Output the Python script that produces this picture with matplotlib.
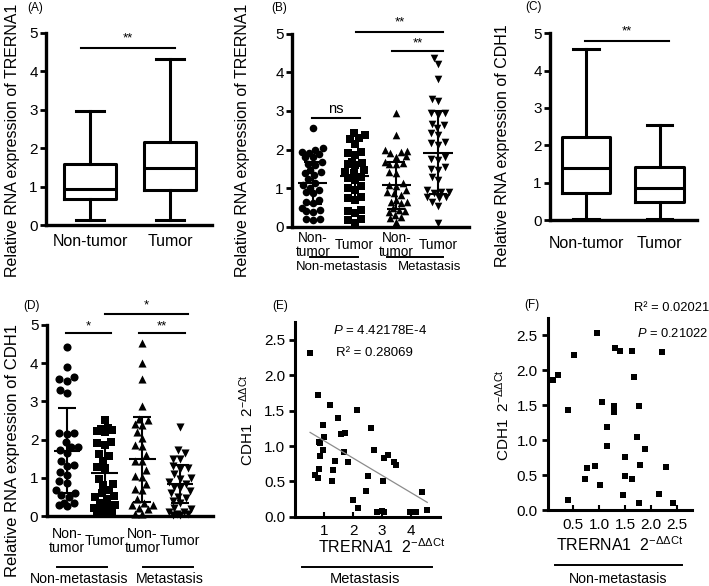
import matplotlib.pyplot as plt
import numpy as np
from matplotlib.transforms import blended_transform_factory

plt.rcParams['font.family'] = ['Liberation Sans', 'DejaVu Sans']
plt.rcParams['mathtext.fontset'] = 'custom'
plt.rcParams['mathtext.rm'] = 'Liberation Sans'
plt.rcParams['mathtext.it'] = 'Liberation Sans:italic'
plt.rcParams['mathtext.bf'] = 'Liberation Sans:bold'

W, H = 709, 586

# ---- (A) TRERNA1 box plot
A_groups = ['Non-tumor', 'Tumor']
A_whislo = [0.13, 0.12]
A_q1 = [0.68, 0.91]
A_med = [0.95, 1.48]
A_q3 = [1.58, 2.17]
A_whishi = [2.97, 4.31]

# ---- (C) CDH1 box plot
C_groups = ['Non-tumor', 'Tumor']
C_whislo = [0.02, 0.02]
C_q1 = [0.73, 0.47]
C_med = [1.39, 0.85]
C_q3 = [2.23, 1.43]
C_whishi = [4.58, 2.55]

# ---- (B) TRERNA1 by metastasis
B_labels = ['Non-\ntumor', 'Tumor', 'Non-\ntumor', 'Tumor']
B_nt_nm = [2.55, 2.00, 2.03, 1.95, 1.90, 1.88, 1.81, 1.80, 1.64, 1.69, 1.60, 1.43,
           1.47, 1.39, 1.34, 1.23, 1.14, 1.08, 1.00, 0.96, 0.87, 0.91, 0.70, 0.63,
           0.65, 0.44, 0.42, 0.40, 0.48, 0.20, 0.17, 0.20]
B_t_nm = [2.42, 2.38, 2.27, 2.14, 2.29, 1.90, 1.95, 1.86, 1.66, 1.64, 1.69, 1.60,
          1.43, 1.47, 1.39, 1.21, 1.30, 1.26, 1.00, 1.05, 0.96, 0.78, 0.70, 0.74,
          0.42, 0.37, 0.44, 0.18, 0.10, 0.20]
B_nt_m = [2.94, 2.38, 1.97, 1.95, 1.92, 2.00, 1.81, 1.83, 1.64, 1.69, 1.62, 1.66,
          1.43, 1.39, 1.13, 1.05, 0.96, 1.08, 0.87, 0.91, 0.83, 0.65, 0.70, 0.61,
          0.65, 0.48, 0.42, 0.40, 0.44, 0.27, 0.31, 0.22, 0.14]
B_t_m = [4.36, 4.22, 3.83, 3.32, 3.25, 2.95, 2.90, 2.95, 2.64, 2.55, 2.67, 2.37,
         2.42, 2.16, 2.12, 2.20, 1.81, 1.72, 1.76, 1.55, 1.47, 1.51, 1.30, 1.21,
         0.91, 0.87, 0.96, 0.91, 0.78, 0.74, 0.78, 0.65, 0.55, 0.10]
B_mean = [1.14, 1.33, 1.08, 1.92]
B_sd = [0.55, 0.59, 0.61, 1.08]

# ---- (D) CDH1 by metastasis
D_labels = ['Non-\ntumor', 'Tumor', 'Non-\ntumor', 'Tumor']
D_nt_nm = [4.43, 3.89, 3.63, 3.58, 3.54, 3.30, 3.22, 2.16, 2.15, 2.16, 1.95, 1.81,
           1.80, 1.72, 1.64, 1.45, 1.34, 1.32, 1.16, 1.07, 0.92, 0.86, 0.68, 0.60,
           0.55, 0.50, 0.35, 0.30, 0.33, 0.25]
D_t_nm = [2.51, 2.30, 2.27, 2.22, 2.20, 2.25, 1.95, 1.92, 1.85, 1.62, 1.58, 1.45,
          1.28, 1.26, 0.98, 0.85, 0.82, 0.68, 0.50, 0.52, 0.45, 0.35, 0.25, 0.22,
          0.12, 0.12, 0.05, 0.05, 0.30, 0.60]
D_nt_m = [4.52, 4.01, 3.59, 2.88, 2.54, 2.51, 2.40, 2.38, 2.20, 2.05, 1.85, 1.83,
          1.60, 1.45, 1.43, 1.20, 1.05, 1.03, 0.85, 0.70, 0.68, 0.45, 0.30, 0.28,
          0.20, 0.18, 0.05, 0.05, 0.35]
D_t_m = [2.34, 1.73, 1.64, 1.50, 1.48, 1.25, 1.22, 1.10, 1.00, 0.98, 0.85, 0.75,
         0.73, 0.60, 0.50, 0.48, 0.35, 0.20, 0.18, 0.10, 0.10, 0.05, 0.05, 0.90,
         1.30, 0.40, 0.65, 0.03, 0.02]
D_mean = [1.71, 1.13, 1.48, 0.83]
D_sd = [1.12, 0.79, 1.12, 0.50]

# ---- (E) correlation, metastasis
E_x = [0.52, 0.78, 1.22, 2.13, 1.47, 0.96, 2.61, 1.00, 1.58, 1.72, 0.83, 0.87, 0.98,
       1.69, 2.73, 0.86, 3.20, 3.07, 3.42, 3.47, 1.38, 1.84, 0.84, 1.32, 0.69, 0.79,
       2.53, 1.29, 3.04, 2.45, 4.39, 1.99, 2.18, 2.82, 2.99, 3.07, 3.97, 4.16, 4.54]
E_y = [2.32, 1.72, 1.58, 1.51, 1.39, 1.30, 1.26, 1.13, 1.17, 1.19, 1.06, 1.04, 0.95,
       0.92, 0.94, 0.86, 0.87, 0.83, 0.77, 0.73, 0.79, 0.77, 0.68, 0.66, 0.59, 0.55,
       0.57, 0.50, 0.51, 0.36, 0.35, 0.24, 0.13, 0.07, 0.08, 0.07, 0.07, 0.07, 0.09]
E_fit_x = [0.52, 4.56]
E_fit_b0, E_fit_b1 = 1.32, -0.245

# ---- (F) correlation, non-metastasis
F_x = [0.95, 0.52, 1.31, 1.41, 1.63, 2.22, 0.11, 0.21, 1.68, 0.40, 1.06, 1.29, 1.29,
       1.77, 1.15, 1.73, 1.16, 1.88, 1.49, 0.76, 0.92, 1.79, 2.30, 0.73, 1.02, 1.50,
       1.63, 0.40, 1.46, 1.78, 2.15, 2.42]
F_y = [2.53, 2.22, 2.32, 2.27, 2.27, 2.26, 1.86, 1.93, 1.90, 1.43, 1.54, 1.49, 1.40,
       1.49, 1.19, 1.05, 0.92, 0.87, 0.76, 0.60, 0.63, 0.65, 0.61, 0.44, 0.36, 0.48,
       0.44, 0.15, 0.21, 0.10, 0.23, 0.10]


fig = plt.figure(figsize=(W / 100, H / 100), dpi=100)


def add_ax(l, t, r, b):
    # axes rectangle given in pixels from the top-left corner
    return fig.add_axes([l / W, 1 - b / H, (r - l) / W, (b - t) / H])


def style(ax, lw=2.4):
    for s in ['top', 'right']:
        ax.spines[s].set_visible(False)
    for s in ['left', 'bottom']:
        ax.spines[s].set_linewidth(lw)
    ax.patch.set_alpha(0)
    ax.tick_params(axis='y', direction='out', length=4, width=2, labelsize=11, pad=2)


def cat_labels(ax, labels, fs, pad):
    ax.set_xticks(range(1, len(labels) + 1))
    ax.set_xticklabels(labels, fontsize=fs, linespacing=0.95)
    for t in ax.get_xticklabels():
        t.set_va('center')
    ax.tick_params(axis='x', length=0, pad=pad)


def sig(ax, x0, x1, y, label, ty, fs=10):
    ax.plot([x0, x1], [y, y], color='k', lw=1.5, clip_on=False)
    ax.text((x0 + x1) / 2, ty, label, ha='center', va='center', fontsize=fs, clip_on=False)


def swarm(vals, xpx, ypx, d, wmax):
    # beeswarm limited to +-wmax pixels; overlaps allowed when it gets crowded
    vals = np.asarray(vals)
    offs = np.zeros(len(vals))
    placed = []
    cands = sorted(np.arange(-wmax, wmax + 0.01, 0.5), key=abs)
    for i in np.argsort(vals):
        y = vals[i] * ypx
        best, bestd = 0.0, -1.0
        for c in cands:
            md = min([np.hypot(c - px, y - py) for px, py in placed] or [99])
            if md >= d:
                best = c
                break
            if md > bestd:
                best, bestd = c, md
        placed.append((best, y))
        offs[i] = best
    return offs / xpx


def box_panel(ax, whislo, q1, med, q3, whishi):
    stats = [dict(whislo=a, q1=b, med=c, q3=d, whishi=e, fliers=[])
             for a, b, c, d, e in zip(whislo, q1, med, q3, whishi)]
    kw = dict(color='k', linewidth=2.2)
    ax.bxp(stats, positions=[1, 2], widths=0.66, capwidths=0.35, showfliers=False,
           boxprops=kw, medianprops=kw, whiskerprops=kw, capprops=kw)


def dot_panel(ax, groups, means, sds, xpx, ypx, msize, d, wmax):
    markers = ['o', 's', '^', 'v']
    for i, (vals, m) in enumerate(zip(groups, markers)):
        offs = swarm(vals, xpx, ypx, d, wmax)
        ax.scatter(i + 1 + offs, vals, marker=m, s=msize, color='k', linewidths=0,
                   zorder=2, clip_on=False)
    pos = np.arange(1, 5)
    ax.hlines(means, pos - 0.35, pos + 0.35, color='k', lw=1.5, zorder=3)
    ax.errorbar(pos, means, yerr=sds, fmt='none', ecolor='k', elinewidth=1.5,
                capsize=6.5, capthick=1.5, zorder=3)


def under(ax, x0, x1, y, text, tx, ty, fs):
    tr = blended_transform_factory(ax.transData, ax.transAxes)
    ax.plot([x0, x1], [y, y], color='k', lw=1.4, transform=tr, clip_on=False)
    ax.text(tx, ty, text, transform=tr, ha='center', va='center', fontsize=fs)


# ================= (A)
ax = add_ax(46, 33, 212, 225)
style(ax)
box_panel(ax, A_whislo, A_q1, A_med, A_q3, A_whishi)
ax.set_xlim(0.45, 2.525)
ax.set_ylim(0, 5)
ax.set_yticks(range(6))
cat_labels(ax, A_groups, 11.5, 12)
sig(ax, 0.89, 2.06, 4.6, '**', 4.86, fs=9.5)
ax.set_ylabel('Relative RNA expression of TRERNA1', fontsize=11.5, ha='left', va='center')
ax.yaxis.set_label_coords(-0.199, -0.271)
fig.text(35 / W, 1 - 8 / H, '(A)', fontsize=8.5, ha='center', va='center')

# ================= (B)
ax = add_ax(292, 33.5, 469, 227)
style(ax)
dot_panel(ax, [B_nt_nm, B_t_nm, B_nt_m, B_t_m], B_mean, B_sd, 41.7, 38.7, 30, 7.0, 11)
ax.set_xlim(0.5, 4.74)
ax.set_ylim(0, 5)
ax.set_yticks(range(6))
cat_labels(ax, B_labels, 9.8, 13)
sig(ax, 0.98, 2.13, 2.82, 'ns', 3.05, fs=10.5)
sig(ax, 2.9, 4.12, 4.55, '**', 4.75, fs=9.5)
sig(ax, 2.03, 4.12, 5.03, '**', 5.28, fs=9.5)
under(ax, 0.93, 2.08, -0.153, 'Non-metastasis', 1.7, -0.205, 9.5)
under(ax, 2.77, 4.12, -0.153, 'Metastasis', 3.8, -0.205, 9.5)
ax.set_ylabel('Relative RNA expression of TRERNA1', fontsize=11.5, ha='left', va='center')
ax.yaxis.set_label_coords(-0.277, -0.258)
fig.text(279 / W, 1 - 8 / H, '(B)', fontsize=8.5, ha='center', va='center')

# ================= (C)
ax = add_ax(550, 33.3, 697, 220)
style(ax)
box_panel(ax, C_whislo, C_q1, C_med, C_q3, C_whishi)
ax.set_xlim(0.51, 2.51)
ax.set_ylim(0, 5)
ax.set_yticks(range(6))
cat_labels(ax, C_groups, 11.5, 17)
sig(ax, 0.99, 2.13, 4.79, '**', 5.05, fs=9.5)
ax.set_ylabel('Relative RNA expression of CDH1', fontsize=11.5, ha='left', va='center')
ax.yaxis.set_label_coords(-0.32, -0.252)
fig.text(533 / W, 1 - 7 / H, '(C)', fontsize=8.5, ha='center', va='center')

# ================= (D)
ax = add_ax(46.7, 325, 213, 516)
style(ax)
dot_panel(ax, [D_nt_nm, D_t_nm, D_nt_m, D_t_m], D_mean, D_sd, 37.8, 38.2, 34, 7.5, 11)
ax.set_xlim(0.47, 4.87)
ax.set_ylim(0, 5)
ax.set_yticks(range(6))
cat_labels(ax, D_labels, 10.2, 18)
sig(ax, 0.98, 2.16, 4.78, '*', 4.96, fs=9.5)
sig(ax, 2.91, 4.13, 4.78, '**', 4.96, fs=9.5)
sig(ax, 2.01, 4.21, 5.29, '*', 5.52, fs=9.5)
under(ax, 0.74, 2.06, -0.265, 'Non-metastasis', 1.33, -0.33, 10.2)
under(ax, 3.02, 4.34, -0.265, 'Metastasis', 3.73, -0.33, 10.2)
ax.set_ylabel('Relative RNA expression of CDH1', fontsize=12, ha='left', va='center')
ax.yaxis.set_label_coords(-0.203, -0.319)
fig.text(32 / W, 1 - 306 / H, '(D)', fontsize=8.5, ha='center', va='center')

# ================= (E)
ax = add_ax(295, 321.6, 440, 516.7)
style(ax, lw=2.2)
ax.scatter(E_x, E_y, marker='s', s=17, color='k', linewidths=0, clip_on=False, zorder=2)
fx = np.array(E_fit_x)
ax.plot(fx, E_fit_b0 + E_fit_b1 * fx, color='#8c8c8c', lw=0.9)
ax.set_xlim(0, 5)
ax.set_ylim(0, 2.76)
ax.set_xticks([1, 2, 3, 4])
ax.set_yticks(np.arange(0, 2.51, 0.5))
ax.set_yticklabels(['%.1f' % v for v in np.arange(0, 2.51, 0.5)])
ax.tick_params(axis='x', direction='in', length=3.5, width=1.5, labelsize=11, pad=5)
ax.tick_params(axis='y', length=4, pad=3)
ax.text(0.262, 0.954, r'$\mathit{P}$ = 4.42178E-4', transform=ax.transAxes,
        fontsize=9.5, ha='left', va='center')
ax.text(0.283, 0.841, 'R² = 0.28069', transform=ax.transAxes,
        fontsize=9.5, ha='left', va='center')
ax.set_ylabel(r'CDH1  2$^{-\Delta\Delta \mathrm{Ct}}$', fontsize=11, va='center')
ax.yaxis.set_label_coords(-0.331, 0.496)
ax.set_xlabel(r'TRERNA1  2$^{-\Delta\Delta \mathrm{Ct}}$', fontsize=11.5, va='center')
ax.xaxis.set_label_coords(0.6, -0.154)
under(ax, 0.23, 4.71, -0.256, 'Metastasis', 2.41, -0.321, 10.5)
fig.text(280 / W, 1 - 306 / H, '(E)', fontsize=8.5, ha='center', va='center')

# ================= (F)
ax = add_ax(547.5, 318.3, 691.7, 510)
style(ax, lw=2.2)
ax.scatter(F_x, F_y, marker='s', s=17, color='k', linewidths=0, clip_on=False, zorder=2)
ax.set_xlim(0, 2.79)
ax.set_ylim(0, 2.74)
ax.set_xticks(np.arange(0.5, 2.51, 0.5))
ax.set_xticklabels(['%.1f' % v for v in np.arange(0.5, 2.51, 0.5)])
ax.set_yticks(np.arange(0, 2.51, 0.5))
ax.set_yticklabels(['%.1f' % v for v in np.arange(0, 2.51, 0.5)])
ax.tick_params(axis='x', direction='in', length=3.5, width=1.5, labelsize=11, pad=6)
ax.tick_params(axis='y', length=4, pad=3)
ax.text(0.6, 1.054, 'R² = 0.02021', transform=ax.transAxes,
        fontsize=9.3, ha='left', va='center', clip_on=False)
ax.text(0.619, 0.922, r'$\mathit{P}$ = 0.21022', transform=ax.transAxes,
        fontsize=9.3, ha='left', va='center')
ax.set_ylabel(r'CDH1  2$^{-\Delta\Delta \mathrm{Ct}}$', fontsize=11, va='center')
ax.yaxis.set_label_coords(-0.309, 0.496)
ax.set_xlabel(r'TRERNA1  2$^{-\Delta\Delta \mathrm{Ct}}$', fontsize=11.5, va='center')
ax.xaxis.set_label_coords(0.503, -0.183)
under(ax, 0.145, 2.6, -0.287, 'Non-metastasis', 1.37, -0.36, 10.2)
fig.text(532 / W, 1 - 305 / H, '(F)', fontsize=8.5, ha='center', va='center')

fig.savefig('out.png', dpi=100)
